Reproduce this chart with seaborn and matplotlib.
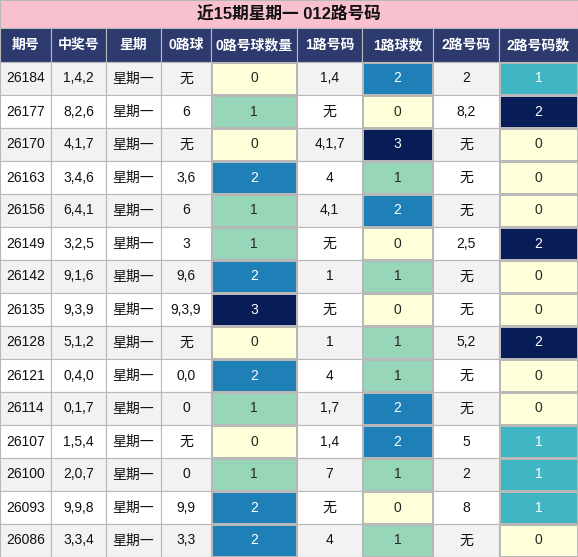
import matplotlib
matplotlib.use("Agg")
import matplotlib.pyplot as plt
import seaborn as sns
import numpy as np
from matplotlib.patches import Rectangle

title = "近15期星期一 012路号码"
headers = ["期号", "中奖号", "星期", "0路球", "0路号球数量", "1路号码", "1路球数", "2路号码", "2路号码数"]
issues = ["26184","26177","26170","26163","26156","26149","26142","26135","26128","26121","26114","26107","26100","26093","26086"]
nums = ["1,4,2","8,2,6","4,1,7","3,4,6","6,4,1","3,2,5","9,1,6","9,3,9","5,1,2","0,4,0","0,1,7","1,5,4","2,0,7","9,9,8","3,3,4"]
weekday = ["星期一"] * 15
road0 = ["无","6","无","3,6","6","3","9,6","9,3,9","无","0,0","0","无","0","9,9","3,3"]
cnt0 = [0,1,0,2,1,1,2,3,0,2,1,0,1,2,2]
road1 = ["1,4","无","4,1,7","4","4,1","无","1","无","1","4","1,7","1,4","7","无","4"]
cnt1 = [2,0,3,1,2,0,1,0,1,1,2,2,1,0,1]
road2 = ["2","8,2","无","无","无","2,5","无","无","5,2","无","无","5","2","8","无"]
cnt2 = [1,2,0,0,0,2,0,0,2,0,0,1,1,1,0]

sns.set_style("white")
plt.rcParams['font.family'] = ['Liberation Sans', 'Noto Sans CJK SC', 'DejaVu Sans']

W, H = 578, 557
fig = plt.figure(figsize=(W/100, H/100), dpi=100)
ax = fig.add_axes([0, 0, 1, 1])
ax.set_xlim(0, W); ax.set_ylim(H, 0); ax.axis("off")

xs = [0, 51, 106, 161, 211, 297, 362, 433, 499, 578]
title_h, head_h = 28, 62
rh = (H - head_h) / 15
grid = "#b8b8b8"

ax.add_patch(Rectangle((0, 0), W, title_h, fc="#f9c0cf", ec=grid, lw=0.8))
ax.text(W/2, title_h/2, title, ha="center", va="center", fontsize=12, fontweight="bold", color="#111")
for i, h in enumerate(headers):
    ax.add_patch(Rectangle((xs[i], title_h), xs[i+1]-xs[i], head_h-title_h, fc="#2d3a6e", ec=grid, lw=0.8))
    ax.text((xs[i]+xs[i+1])/2, (title_h+head_h)/2, h, ha="center", va="center", fontsize=10, fontweight="bold", color="white")

text_cols = {0: issues, 1: nums, 2: weekday, 3: road0, 5: road1, 7: road2}
for r in range(15):
    y = head_h + r*rh
    bg = "#f2f2f2" if r % 2 == 0 else "white"
    for c, vals in text_cols.items():
        ax.add_patch(Rectangle((xs[c], y), xs[c+1]-xs[c], rh, fc=bg, ec=grid, lw=0.8))
        ax.text((xs[c]+xs[c+1])/2, y+rh/2, vals[r], ha="center", va="center", fontsize=10, color="#111")

for c, vals in [(4, cnt0), (6, cnt1), (8, cnt2)]:
    hax = fig.add_axes([xs[c]/W, 0, (xs[c+1]-xs[c])/W, (H-head_h)/H])
    arr = np.array(vals).reshape(-1, 1)
    sns.heatmap(arr, ax=hax, cmap="YlGnBu", vmin=0, vmax=max(vals), cbar=False,
                annot=True, fmt="d", annot_kws={"fontsize": 10},
                linewidths=0.8, linecolor=grid, xticklabels=False, yticklabels=False)

fig.savefig("out.png", dpi=100)
